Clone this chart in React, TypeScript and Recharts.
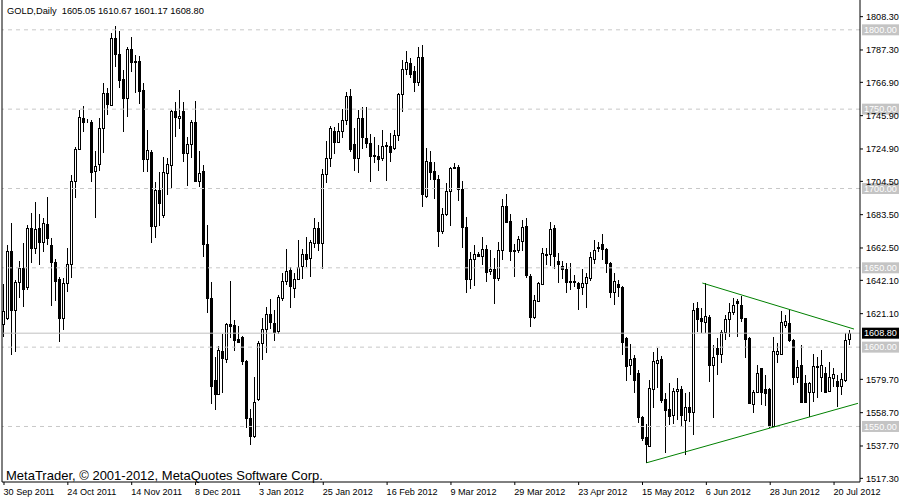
import { ComposedChart, Bar, XAxis, YAxis, ReferenceLine } from 'recharts'

// daily OHLC, one entry per bar (30 Sep 2011 .. 26 Jul 2012)
const opens = [
  1614.6, 1618.3, 1660.6, 1623.4, 1641.0, 1649.9, 1637.9, 1675.1, 1662.5, 1675.1,
  1666.2, 1677.6, 1664.4, 1653.6, 1642.9, 1618.3, 1640.4, 1652.4, 1704.7, 1724.9,
  1744.4, 1742.5, 1741.9, 1711.0, 1715.4, 1738.1, 1760.2, 1752.6, 1794.8, 1784.8,
  1769.0, 1757.0, 1787.9, 1780.3, 1780.3, 1762.1, 1718.6, 1723.0, 1676.3, 1699.0,
  1683.3, 1709.7, 1714.8, 1748.8, 1744.4, 1748.8, 1722.3, 1728.0, 1741.9, 1704.7,
  1711.0, 1665.0, 1630.9, 1579.2, 1570.4, 1597.5, 1592.5, 1614.6, 1614.0, 1605.1,
  1606.4, 1591.2, 1555.3, 1543.9, 1567.3, 1602.6, 1611.4, 1620.9, 1615.2, 1610.1,
  1630.9, 1641.7, 1648.6, 1637.2, 1642.9, 1651.1, 1658.7, 1656.2, 1665.6, 1675.1,
  1665.6, 1709.1, 1719.2, 1736.2, 1729.3, 1736.2, 1743.2, 1758.3, 1728.0, 1719.2,
  1744.4, 1731.8, 1728.7, 1721.1, 1720.5, 1719.2, 1726.8, 1726.8, 1725.5, 1733.7,
  1759.5, 1775.3, 1779.1, 1774.0, 1767.1, 1782.9, 1695.2, 1716.7, 1711.0, 1706.0,
  1673.2, 1683.9, 1698.4, 1713.5, 1713.5, 1699.7, 1675.7, 1642.9, 1655.5, 1658.7,
  1657.4, 1661.8, 1648.0, 1649.2, 1643.5, 1661.2, 1688.9, 1679.5, 1661.2, 1661.2,
  1666.9, 1676.3, 1644.8, 1619.0, 1629.0, 1639.8, 1658.7, 1658.7, 1675.1, 1654.3,
  1651.1, 1649.2, 1641.7, 1641.7, 1640.4, 1637.9, 1640.4, 1643.5, 1655.5, 1663.1,
  1665.0, 1661.8, 1653.0, 1634.7, 1639.8, 1637.9, 1605.7, 1588.7, 1593.1, 1583.7,
  1555.9, 1543.3, 1537.6, 1573.6, 1590.0, 1592.5, 1567.3, 1561.0, 1557.2, 1572.3,
  1573.6, 1554.0, 1562.2, 1559.1, 1624.6, 1618.3, 1615.8, 1619.0, 1588.7, 1599.4,
  1595.6, 1609.5, 1617.7, 1622.1, 1629.0, 1626.5, 1618.3, 1605.7, 1564.1, 1571.7,
  1586.8, 1573.6, 1573.6, 1550.3, 1595.6, 1595.6, 1614.0, 1615.2, 1604.5, 1581.1,
  1588.7, 1577.4, 1571.7, 1571.7, 1588.1, 1581.1, 1583.7, 1572.3, 1580.5, 1578.6,
  1575.5, 1579.2, 1605.05,
]
const highs = [
  1639.8, 1664.4, 1678.2, 1642.3, 1654.3, 1665.6, 1677.0, 1684.5, 1691.5, 1683.9,
  1681.4, 1694.6, 1668.8, 1655.5, 1644.2, 1643.5, 1662.5, 1708.5, 1726.1, 1749.5,
  1752.0, 1743.8, 1743.2, 1723.6, 1744.4, 1766.5, 1763.3, 1798.0, 1802.4, 1799.3,
  1774.7, 1789.2, 1795.5, 1784.1, 1783.5, 1766.5, 1736.8, 1724.2, 1704.1, 1710.4,
  1719.8, 1719.2, 1749.5, 1754.5, 1762.1, 1754.5, 1732.4, 1743.2, 1755.1, 1723.6,
  1714.8, 1677.0, 1641.0, 1593.7, 1600.7, 1608.2, 1615.2, 1641.7, 1617.1, 1613.3,
  1607.0, 1591.9, 1561.0, 1581.1, 1603.8, 1618.3, 1625.3, 1630.3, 1623.4, 1632.8,
  1646.7, 1661.8, 1650.5, 1646.7, 1667.5, 1661.8, 1669.4, 1667.5, 1681.4, 1678.9,
  1712.3, 1729.9, 1739.4, 1738.7, 1741.3, 1750.1, 1760.8, 1762.7, 1738.1, 1749.5,
  1751.3, 1751.3, 1734.3, 1732.4, 1727.4, 1736.8, 1729.3, 1735.0, 1736.8, 1760.2,
  1781.0, 1786.6, 1782.2, 1777.2, 1789.2, 1790.4, 1725.5, 1723.6, 1716.7, 1708.5,
  1687.7, 1703.4, 1713.5, 1716.0, 1714.8, 1704.7, 1682.0, 1659.9, 1664.4, 1659.9,
  1669.4, 1664.4, 1661.2, 1656.2, 1666.2, 1693.4, 1696.5, 1683.9, 1665.0, 1670.0,
  1680.1, 1681.4, 1646.0, 1632.8, 1641.0, 1662.5, 1662.5, 1678.9, 1677.0, 1659.3,
  1654.3, 1653.0, 1653.0, 1645.4, 1641.0, 1649.2, 1646.7, 1659.9, 1667.5, 1666.2,
  1671.3, 1662.5, 1653.6, 1646.7, 1642.3, 1638.5, 1606.4, 1601.9, 1595.0, 1585.6,
  1556.5, 1551.5, 1579.2, 1596.9, 1599.4, 1594.4, 1571.0, 1577.4, 1574.2, 1580.5,
  1575.5, 1571.0, 1571.7, 1627.8, 1628.4, 1624.6, 1640.4, 1620.2, 1601.3, 1605.7,
  1610.8, 1620.2, 1627.8, 1630.9, 1630.3, 1632.2, 1618.5, 1606.4, 1572.9, 1588.7,
  1587.0, 1582.4, 1574.2, 1606.4, 1602.6, 1622.7, 1620.2, 1623.4, 1605.0, 1591.9,
  1601.3, 1582.4, 1578.0, 1595.6, 1593.7, 1598.2, 1587.4, 1590.6, 1586.8, 1582.4,
  1583.7, 1608.9, 1610.67,
]
const lows = [
  1606.4, 1617.1, 1595.0, 1596.9, 1630.9, 1625.3, 1636.0, 1653.0, 1658.7, 1651.7,
  1659.9, 1664.4, 1625.9, 1629.0, 1603.2, 1610.8, 1634.7, 1643.5, 1694.0, 1724.2,
  1735.6, 1741.3, 1704.1, 1681.4, 1711.0, 1722.3, 1746.3, 1752.0, 1776.6, 1763.3,
  1735.6, 1745.0, 1773.4, 1760.2, 1753.2, 1710.4, 1710.4, 1665.6, 1668.8, 1676.3,
  1681.4, 1695.9, 1700.3, 1732.4, 1737.5, 1716.7, 1701.5, 1719.2, 1704.1, 1700.9,
  1656.8, 1621.5, 1564.1, 1560.3, 1569.8, 1571.0, 1590.0, 1605.7, 1597.5, 1602.6,
  1588.7, 1549.0, 1538.3, 1543.0, 1566.0, 1591.9, 1596.3, 1611.4, 1603.8, 1608.2,
  1629.0, 1639.1, 1624.6, 1630.9, 1642.3, 1642.9, 1650.5, 1644.2, 1662.5, 1660.6,
  1649.2, 1703.4, 1713.5, 1721.7, 1728.7, 1731.8, 1740.0, 1723.0, 1711.0, 1709.7,
  1724.9, 1725.5, 1704.1, 1716.0, 1711.0, 1717.3, 1704.7, 1716.7, 1724.2, 1729.9,
  1748.2, 1771.5, 1769.6, 1760.8, 1764.6, 1688.3, 1694.0, 1705.3, 1693.4, 1663.1,
  1671.3, 1682.6, 1676.3, 1712.3, 1692.1, 1662.5, 1634.1, 1636.6, 1638.5, 1656.8,
  1651.7, 1641.0, 1645.4, 1627.2, 1642.0, 1654.9, 1678.0, 1654.3, 1644.2, 1659.3,
  1660.6, 1643.5, 1612.7, 1618.0, 1628.4, 1639.1, 1651.7, 1651.1, 1649.2, 1640.4,
  1642.9, 1634.1, 1636.0, 1637.9, 1623.4, 1632.8, 1624.6, 1641.7, 1652.4, 1659.9,
  1654.9, 1646.7, 1630.9, 1626.5, 1631.6, 1595.0, 1578.6, 1582.4, 1571.0, 1552.1,
  1540.8, 1526.9, 1537.0, 1561.6, 1574.2, 1564.7, 1533.2, 1550.9, 1551.5, 1554.0,
  1549.6, 1532.0, 1552.8, 1544.6, 1609.5, 1608.9, 1608.9, 1578.0, 1555.3, 1582.4,
  1590.0, 1604.5, 1606.4, 1620.2, 1606.4, 1615.8, 1593.1, 1564.1, 1558.4, 1571.0,
  1563.5, 1562.9, 1549.0, 1549.5, 1590.0, 1595.0, 1612.0, 1603.2, 1576.1, 1577.4,
  1564.7, 1564.7, 1555.9, 1565.4, 1567.9, 1571.7, 1571.0, 1571.7, 1574.8, 1562.2,
  1569.8, 1578.0, 1601.17,
]
const closes = [
  1622.7, 1660.6, 1623.4, 1641.0, 1649.9, 1636.6, 1675.1, 1662.5, 1674.4, 1666.2,
  1678.2, 1668.8, 1653.6, 1641.7, 1618.3, 1640.4, 1652.4, 1704.7, 1724.9, 1745.0,
  1741.9, 1742.4, 1710.4, 1714.2, 1738.1, 1760.2, 1753.2, 1794.8, 1784.8, 1768.4,
  1757.0, 1787.9, 1779.7, 1779.7, 1761.4, 1718.6, 1724.2, 1676.3, 1699.0, 1690.8,
  1710.4, 1715.4, 1748.8, 1745.0, 1745.7, 1722.3, 1728.0, 1741.9, 1704.7, 1709.7,
  1665.0, 1630.9, 1575.5, 1570.4, 1598.2, 1593.1, 1614.6, 1613.3, 1604.5, 1603.2,
  1591.2, 1555.3, 1543.9, 1565.4, 1602.6, 1611.4, 1620.9, 1615.8, 1609.5, 1631.6,
  1641.7, 1648.0, 1638.5, 1642.9, 1650.5, 1658.7, 1655.5, 1666.2, 1675.1, 1665.6,
  1709.1, 1719.2, 1738.1, 1729.3, 1736.2, 1743.2, 1758.3, 1724.9, 1719.2, 1744.4,
  1732.4, 1728.7, 1720.5, 1720.5, 1718.6, 1726.8, 1727.4, 1723.0, 1733.7, 1759.5,
  1775.3, 1779.7, 1772.2, 1767.1, 1782.9, 1696.5, 1717.3, 1710.4, 1706.0, 1673.2,
  1683.9, 1698.4, 1712.9, 1712.9, 1699.7, 1675.7, 1642.9, 1655.5, 1658.7, 1657.4,
  1661.8, 1647.3, 1649.2, 1643.5, 1661.2, 1688.9, 1678.9, 1660.6, 1660.6, 1668.1,
  1675.7, 1645.4, 1619.0, 1629.7, 1640.4, 1659.3, 1658.0, 1674.4, 1657.4, 1652.4,
  1649.2, 1641.0, 1641.0, 1641.0, 1637.2, 1640.4, 1644.2, 1656.8, 1661.2, 1662.5,
  1661.8, 1653.0, 1634.7, 1641.7, 1637.9, 1603.2, 1588.1, 1592.5, 1579.2, 1555.9,
  1542.7, 1538.9, 1574.2, 1591.2, 1591.9, 1566.6, 1560.3, 1556.6, 1572.3, 1573.6,
  1557.2, 1562.2, 1559.1, 1623.4, 1617.7, 1616.4, 1619.6, 1588.7, 1593.7, 1595.6,
  1609.5, 1617.7, 1622.1, 1626.5, 1627.8, 1618.3, 1605.1, 1564.8, 1571.7, 1583.7,
  1571.7, 1571.0, 1550.9, 1597.5, 1597.5, 1615.8, 1616.4, 1604.5, 1581.1, 1587.4,
  1565.4, 1565.4, 1577.4, 1588.1, 1587.4, 1588.7, 1571.7, 1581.1, 1583.0, 1575.5,
  1579.9, 1604.5, 1608.80,
]

// empty slots after the last bar (chart shift)
const shiftBars = 2
const dateLabels = [
  '30 Sep 2011', '24 Oct 2011', '14 Nov 2011', '8 Dec 2011', '3 Jan 2012',
  '25 Jan 2012', '16 Feb 2012', '9 Mar 2012', '29 Mar 2012', '23 Apr 2012',
  '15 May 2012', '6 Jun 2012', '28 Jun 2012', '20 Jul 2012',
]
const barsPerLabel = 16
const priceTicks = [
  1808.3, 1787.3, 1766.9, 1745.9, 1724.9, 1704.5, 1683.5, 1662.5,
  1642.1, 1621.1, 1579.7, 1558.7, 1537.7, 1517.3,
]
const levels = [1800, 1750, 1700, 1650, 1600, 1550]
const bid = 1608.8
const upperTrend = [{ x: 175, y: 1640.4 }, { x: 213, y: 1611.4 }]
const lowerTrend = [{ x: 161, y: 1527.1 }, { x: 214, y: 1564.6 }]

const rows = [...opens.map((o, i) => ({ i, o, h: highs[i], l: lows[i], c: closes[i] }))]
for (let k = 0; k < shiftBars; k++) rows.push({ i: opens.length + k, o: null, h: null, l: null, c: null } as any)

const font = '"Liberation Sans", Arial, sans-serif'

function Candle(props: any) {
  const { x, y, width, height, payload } = props
  if (!payload || payload.h == null) return null
  const top = Math.min(y, y + height)
  const span = Math.abs(height)
  const range = payload.h - payload.l
  const toY = (v: number) => (range ? top + ((payload.h - v) / range) * span : top)
  const px = Math.floor(x + width / 2)
  const yo = toY(payload.o)
  const yc = toY(payload.c)
  const b0 = Math.round(Math.min(yo, yc))
  const b1 = Math.round(Math.max(yo, yc))
  const up = payload.c >= payload.o
  return (
    <g>
      <line x1={px + 0.5} x2={px + 0.5} y1={Math.round(top)} y2={Math.round(top + span)} stroke="#000" />
      <rect x={px - 0.5} y={b0 + 0.5} width={2} height={Math.max(b1 - b0, 0)}
        fill={up ? '#fff' : '#000'} stroke="#000" />
    </g>
  )
}

function DateTick({ x, y, payload }: any) {
  return (
    <text x={x - 0.5} y={y + 10} fontSize={9.1} fontFamily={font} fill="#000" textAnchor="start">
      {dateLabels[payload.value / barsPerLabel]}
    </text>
  )
}

function PriceTick({ x, y, payload }: any) {
  return (
    <text x={x} y={y + 3.3} fontSize={9.1} fontFamily={font} fill="#000" textAnchor="start">
      {payload.value.toFixed(2)}
    </text>
  )
}

function priceBox(value: number, bg: string) {
  return (p: any) => {
    const vb = p.viewBox || {}
    const bx = vb.x + vb.width + 2
    const by = vb.y
    return (
      <g>
        <rect x={bx} y={by - 5.5} width={37} height={11} fill={bg} />
        <text x={bx + 2} y={by + 3.3} fontSize={9.1} fontFamily={font} fill="#fff">
          {value.toFixed(2)}
        </text>
      </g>
    )
  }
}

export default function App() {
  return (
    <div style={{ position: 'relative', width: 900, height: 500, background: '#fff' }}>
      <style>{'body{margin:0}'}</style>
      <ComposedChart width={900} height={500} data={rows}
        margin={{ top: 0, right: 0, bottom: 0, left: 0 }}>
        <XAxis dataKey="i" type="category" interval={barsPerLabel - 1} height={18}
          tickSize={3} tickMargin={0} stroke="#000" tick={<DateTick />} />
        <YAxis yAxisId="l" orientation="left" width={2} domain={[0, 1]} tick={false}
          tickLine={false} stroke="#000" />
        <YAxis yAxisId="p" orientation="right" width={40} domain={[1515.0, 1818.8]}
          ticks={priceTicks} interval={0} tickSize={3} tickMargin={3} stroke="#000"
          tick={<PriceTick />} allowDataOverflow />
        {levels.map((v) => (
          <ReferenceLine key={v} yAxisId="p" y={v} stroke="#c8c8c8" strokeDasharray="4 4"
            label={priceBox(v, '#c4c4c4')} />
        ))}
        <ReferenceLine yAxisId="p" y={bid} stroke="#c0c0c0" label={priceBox(bid, '#000')} />
        <Bar yAxisId="p" dataKey={(d: any) => (d.h == null ? null : [d.l, d.h])} barSize={3}
          shape={<Candle />} isAnimationActive={false} activeBar={false} />
        <ReferenceLine yAxisId="p" segment={upperTrend} stroke="#008000" ifOverflow="visible" />
        <ReferenceLine yAxisId="p" segment={lowerTrend} stroke="#008000" ifOverflow="visible" />
      </ComposedChart>
      <div style={{ position: 'absolute', left: 7, top: 5, fontFamily: font, fontSize: 9.3,
        lineHeight: '12px', whiteSpace: 'pre', color: '#000' }}>
        {'GOLD,Daily  1605.05 1610.67 1601.17 1608.80'}
      </div>
      <div style={{ position: 'absolute', left: 6, top: 468, fontFamily: font, fontSize: 13,
        lineHeight: '15px', whiteSpace: 'pre', color: '#000' }}>
        MetaTrader, © 2001-2012, MetaQuotes Software Corp.
      </div>
    </div>
  )
}
